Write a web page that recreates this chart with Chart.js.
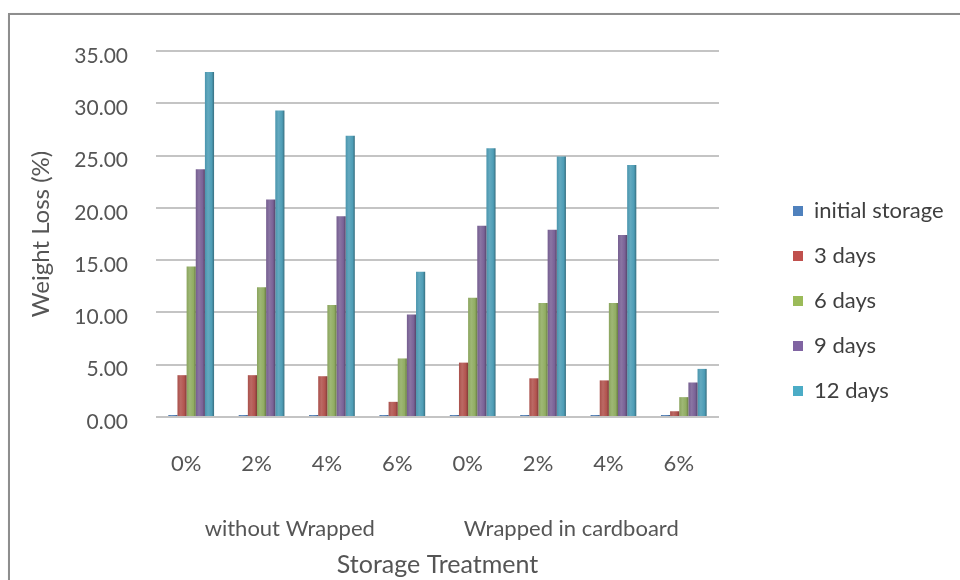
<!DOCTYPE html>
<html>
<head>
<meta charset="utf-8">
<script src="https://cdn.jsdelivr.net/npm/chart.js@4/dist/chart.umd.min.js"></script>
<style>
  html, body { margin: 0; padding: 0; background: #ffffff; }
  #wrap { position: relative; width: 960px; height: 580px; overflow: hidden; }
  #frame { position: absolute; left: 8px; top: 13px; width: 1000px; height: 620px;
           border: 2px solid #8e8e8e; box-shadow: 1px 1px 2px rgba(0,0,0,0.25); }
  #chart { position: absolute; left: 0; top: 0; }
</style>
</head>
<body>
<div id="wrap">
  <div id="frame"></div>
  <canvas id="chart" width="960" height="580"></canvas>
</div>
<script>
// Weight loss (%) by coating concentration, for unwrapped and cardboard-wrapped storage
const concentrations = ['0%', '2%', '4%', '6%', '0%', '2%', '4%', '6%'];
const treatments = ['without Wrapped', 'Wrapped in cardboard'];
const seriesNames = ['initial storage', '3 days', '6 days', '9 days', '12 days'];

const initialStorage = [0, 0, 0, 0, 0, 0, 0, 0];
const days3  = [4.0, 4.0, 3.9, 1.45, 5.2, 3.7, 3.5, 0.55];
const days6  = [14.4, 12.4, 10.7, 5.6, 11.4, 10.9, 10.9, 1.9];
const days9  = [23.7, 20.8, 19.2, 9.8, 18.3, 17.9, 17.4, 3.3];
const days12 = [33.0, 29.3, 26.9, 13.9, 25.7, 24.9, 24.1, 4.6];

const yMax = 35;
const yStep = 5;

const legendColors = ['#4F81BD', '#C0504D', '#9BBB59', '#8064A2', '#4BACC6'];
const barColors    = ['#4F7DB5', '#B2544F', '#91AD62', '#7A6296', '#4E9DB6'];

const CAT_PCT = 0.65;
const FONT = 'Lato, "Open Sans", sans-serif';

function shade(hex, amt) {
  const n = parseInt(hex.slice(1), 16);
  const r = (n >> 16) & 255, g = (n >> 8) & 255, b = n & 255;
  const f = (c) => Math.round(amt >= 0 ? c + (255 - c) * amt : c * (1 + amt));
  return 'rgb(' + f(r) + ',' + f(g) + ',' + f(b) + ')';
}

// Cylinder-like horizontal shading across each column
function columnFill(seriesIndex) {
  return (ctx) => {
    const base = barColors[seriesIndex];
    if (ctx.type !== 'data') return legendColors[seriesIndex];
    const chart = ctx.chart;
    const xs = chart.scales.x;
    if (!xs || !xs.width) return base;
    const cat = xs.width / concentrations.length;
    const group = cat * CAT_PCT;
    const w = group / seriesNames.length;
    const left = xs.getPixelForValue(ctx.dataIndex) - group / 2 + seriesIndex * w;
    const g = chart.ctx.createLinearGradient(left, 0, left + w, 0);
    g.addColorStop(0, shade(base, -0.05));
    g.addColorStop(0.35, shade(base, 0.12));
    g.addColorStop(0.75, base);
    g.addColorStop(1, shade(base, -0.3));
    return g;
  };
}

const seriesData = [initialStorage, days3, days6, days9, days12];

const datasets = seriesNames.map((name, i) => ({
  label: name,
  data: seriesData[i],
  backgroundColor: columnFill(i),
  borderWidth: 0,
  minBarLength: i === 0 ? 2 : 0,
  categoryPercentage: CAT_PCT,
  barPercentage: 1.0,
  xAxisID: 'x',
  yAxisID: 'y'
}));

const tickColor = '#555555';

new Chart(document.getElementById('chart'), {
  type: 'bar',
  data: { labels: concentrations, datasets },
  options: {
    responsive: false,
    animation: false,
    events: [],
    layout: { padding: { top: 22, left: 0, right: 0, bottom: 0 } },
    plugins: {
      tooltip: { enabled: false },
      legend: {
        position: 'right',
        align: 'center',
        maxWidth: 220,
        labels: {
          boxWidth: 10,
          boxHeight: 10,
          padding: 23,
          color: '#3f3f3f',
          font: { family: FONT, size: 22 },
          generateLabels(chart) {
            const items = Chart.defaults.plugins.legend.labels.generateLabels(chart);
            items.forEach((it, i) => {
              it.fillStyle = legendColors[i];
              it.strokeStyle = legendColors[i];
              it.lineWidth = 0;
            });
            return items;
          }
        }
      }
    },
    scales: {
      x: {
        type: 'category',
        position: 'bottom',
        offset: true,
        grid: { display: false, drawTicks: false },
        border: { display: false },
        ticks: { color: tickColor, font: { family: FONT, size: 22 }, padding: 34, labelOffset: -5, maxRotation: 0 },
        afterFit(s) { s.height = 63; }
      },
      x2: {
        type: 'category',
        position: 'bottom',
        labels: treatments,
        offset: true,
        grid: { display: false, drawTicks: false },
        border: { display: false },
        ticks: { color: tickColor, font: { family: FONT, size: 22 }, padding: 36, labelOffset: -7, maxRotation: 0 },
        title: { display: true, text: 'Storage Treatment', color: tickColor,
                 font: { family: FONT, size: 25 }, padding: { top: 0, bottom: 0 } },
        afterFit(s) { s.height = 100; }
      },
      y: {
        type: 'linear',
        position: 'left',
        min: 0,
        max: yMax,
        grid: { color: '#c4c4c4', lineWidth: 2, drawTicks: false },
        border: { display: false },
        ticks: { stepSize: yStep, color: tickColor, font: { family: FONT, size: 21 }, padding: 28, labelOffset: 5,
                 callback: (v) => Number(v).toFixed(2) },
        title: { display: true, text: 'Weight Loss (%)', color: tickColor,
                 font: { family: FONT, size: 24 }, padding: { top: 27, bottom: 0 } },
        afterFit(s) { s.width = 156; s.paddingTop = 51; s.paddingRight = 241; }
      },
      legendGap: {
        type: 'linear',
        position: 'right',
        display: true,
        grid: { display: false, drawTicks: false },
        border: { display: false },
        ticks: { display: false },
        afterFit(s) { s.width = 51; }
      }
    }
  }
});
</script>
</body>
</html>
